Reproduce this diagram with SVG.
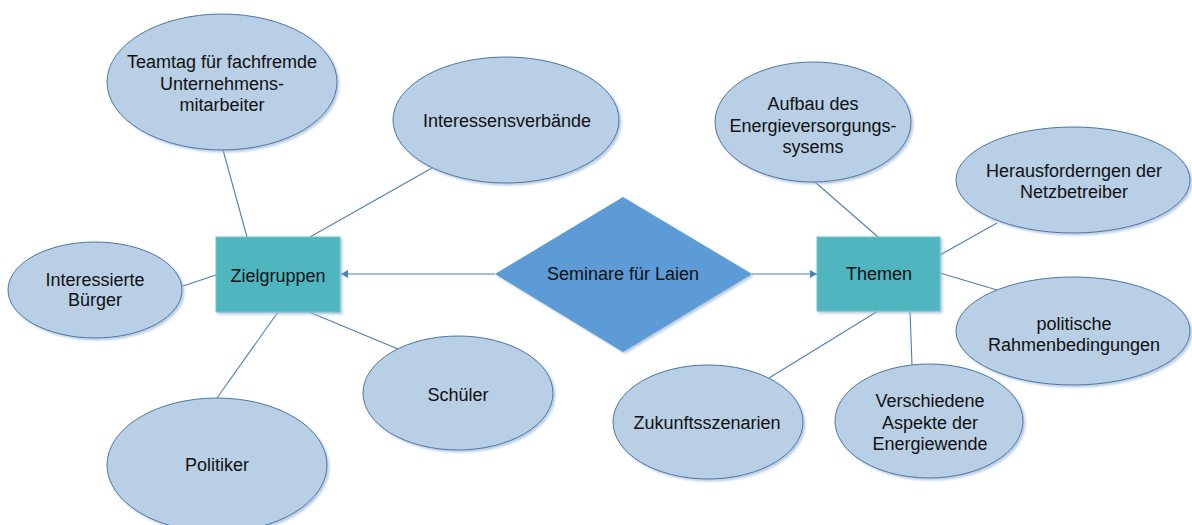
<svg xmlns="http://www.w3.org/2000/svg" width="1192" height="525" viewBox="0 0 1192 525">
<style>
.ell{fill:#B8CFE6;stroke:#4A76A8;stroke-width:1}
.box{fill:#50B5BF;stroke:#6CC4CC;stroke-width:1}
.dia{fill:#5B9BD5}
.t{font-family:"Liberation Sans",Arial,sans-serif;font-size:18px;fill:#111;text-anchor:middle}
.ln{stroke:#4F7FAF;stroke-width:1.1;fill:none}
</style>
<defs>
<filter id="sh" x="-10%" y="-10%" width="125%" height="125%">
<feDropShadow dx="2" dy="2" stdDeviation="1" flood-color="#9DB7D6" flood-opacity="0.7"/>
</filter>
<marker id="arr" markerWidth="8" markerHeight="8" refX="7" refY="4" orient="auto" markerUnits="userSpaceOnUse">
<path d="M0,0 L7,4 L0,8 Z" fill="#4F7FAF"/>
</marker>
</defs>
<g id="connectors">
<line class="ln" x1="495" y1="274" x2="341" y2="274" marker-end="url(#arr)"/>
<line class="ln" x1="752" y1="274" x2="817" y2="274" marker-end="url(#arr)"/>
<line class="ln" x1="223" y1="150" x2="247" y2="237"/>
<line class="ln" x1="432" y1="168" x2="310" y2="237"/>
<line class="ln" x1="180" y1="287" x2="216" y2="275"/>
<line class="ln" x1="278" y1="312" x2="217" y2="398"/>
<line class="ln" x1="309" y1="312" x2="398" y2="349"/>
<line class="ln" x1="815" y1="182" x2="878" y2="237"/>
<line class="ln" x1="997" y1="223" x2="940" y2="255"/>
<line class="ln" x1="940" y1="273" x2="997" y2="290"/>
<line class="ln" x1="878" y1="311" x2="769" y2="378"/>
<line class="ln" x1="910" y1="311" x2="912" y2="365"/>
</g>
<g id="diamond">
<polygon class="dia" filter="url(#sh)" points="623,197 752,274 623,352 495,274"/>
<text class="t" x="623" y="280">Seminare für Laien</text>
</g>
<g id="zielgruppen">
<rect class="box" filter="url(#sh)" x="216" y="237" width="124" height="75"/>
<text class="t" x="278" y="282">Zielgruppen</text>
</g>
<g id="themen">
<rect class="box" filter="url(#sh)" x="817" y="237" width="123" height="74"/>
<text class="t" x="879" y="280">Themen</text>
</g>
<g id="teamtag">
<ellipse class="ell" filter="url(#sh)" cx="222" cy="82" rx="115" ry="68"/>
<text class="t" x="222" y="68">Teamtag für fachfremde</text>
<text class="t" x="222" y="89.5">Unternehmens-</text>
<text class="t" x="222" y="111">mitarbeiter</text>
</g>
<g id="interessensverbaende">
<ellipse class="ell" filter="url(#sh)" cx="506" cy="120" rx="113" ry="63"/>
<text class="t" x="507" y="127">Interessensverbände</text>
</g>
<g id="buerger">
<ellipse class="ell" filter="url(#sh)" cx="95" cy="290" rx="87" ry="48"/>
<text class="t" x="95" y="286">Interessierte</text>
<text class="t" x="95" y="306">Bürger</text>
</g>
<g id="schueler">
<ellipse class="ell" filter="url(#sh)" cx="458" cy="393" rx="95" ry="57"/>
<text class="t" x="458" y="401">Schüler</text>
</g>
<g id="politiker">
<ellipse class="ell" filter="url(#sh)" cx="217" cy="465" rx="110" ry="67"/>
<text class="t" x="217" y="471">Politiker</text>
</g>
<g id="aufbau">
<ellipse class="ell" filter="url(#sh)" cx="813" cy="122" rx="98" ry="60"/>
<text class="t" x="813" y="110">Aufbau des</text>
<text class="t" x="813" y="131.5">Energieversorgungs-</text>
<text class="t" x="813" y="153">sysems</text>
</g>
<g id="herausforderungen">
<ellipse class="ell" filter="url(#sh)" cx="1073" cy="180" rx="117" ry="53"/>
<text class="t" x="1074" y="177">Herausforderngen der</text>
<text class="t" x="1074" y="198">Netzbetreiber</text>
</g>
<g id="politische">
<ellipse class="ell" filter="url(#sh)" cx="1073" cy="331" rx="117" ry="54"/>
<text class="t" x="1074" y="330">politische</text>
<text class="t" x="1074" y="351">Rahmenbedingungen</text>
</g>
<g id="zukunft">
<ellipse class="ell" filter="url(#sh)" cx="708" cy="422" rx="95" ry="57"/>
<text class="t" x="707" y="429">Zukunftsszenarien</text>
</g>
<g id="aspekte">
<ellipse class="ell" filter="url(#sh)" cx="929" cy="421" rx="94" ry="57"/>
<text class="t" x="930" y="407">Verschiedene</text>
<text class="t" x="930" y="428.5">Aspekte der</text>
<text class="t" x="930" y="450">Energiewende</text>
</g>
</svg>
